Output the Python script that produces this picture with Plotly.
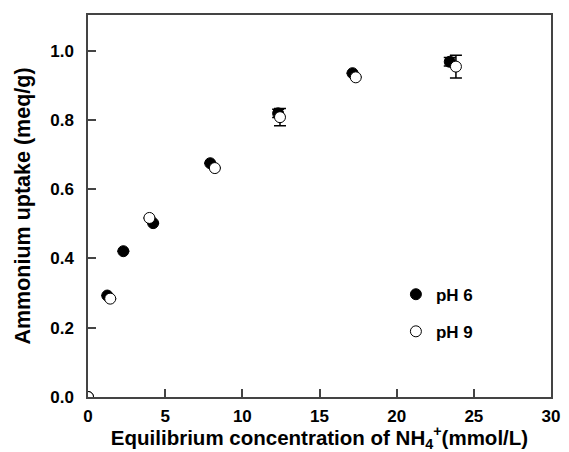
import plotly.graph_objects as go

# pH 6 (filled)
x_ph6 = [0.0, 1.25, 2.29, 4.22, 7.92, 12.32, 17.14, 23.44]
y_ph6 = [0.0, 0.293, 0.421, 0.502, 0.675, 0.819, 0.935, 0.968]
e_ph6 = [0, 0, 0, 0, 0, 0.012, 0, 0.012]

# pH 9 (open)
x_ph9 = [0.0, 1.44, 3.98, 8.22, 12.44, 17.35, 23.84]
y_ph9 = [0.0, 0.284, 0.517, 0.661, 0.808, 0.923, 0.954]
e_ph9 = [0, 0, 0, 0, 0.025, 0, 0.033]

x_ticks = [0, 5, 10, 15, 20, 25, 30]
y_ticks = [0.0, 0.2, 0.4, 0.6, 0.8, 1.0]
y_ticklabels = ["0.0", "0.2", "0.4", "0.6", "0.8", "1.0"]

FONT = "Arial, Liberation Sans, sans-serif"

fig = go.Figure()
fig.add_trace(go.Scatter(
    x=x_ph6, y=y_ph6, mode="markers", name="<b>pH 6</b>",
    legendgroup="a",
    marker=dict(size=11, color="black", line=dict(color="black", width=1)),
    error_y=dict(type="data", array=e_ph6, color="black", thickness=1.5, width=6, visible=True),
))
fig.add_trace(go.Scatter(
    x=x_ph9, y=y_ph9, mode="markers", name="<b>pH 9</b>",
    legendgroup="b",
    marker=dict(size=11, color="white", line=dict(color="black", width=1)),
    error_y=dict(type="data", array=e_ph9, color="black", thickness=1.5, width=6, visible=True),
))

axis_common = dict(
    showline=True, linecolor="#444", linewidth=1.5, mirror=True,
    ticks="inside", ticklen=8, tickwidth=1.5, tickcolor="#444",
    showgrid=False, zeroline=False,
    tickfont=dict(family=FONT, size=17, color="black", weight="bold"),
)

fig.update_layout(
    width=569, height=452,
    margin=dict(l=88, r=9, t=15, b=55),
    plot_bgcolor="white", paper_bgcolor="white",
    font=dict(family=FONT, color="black"),
    xaxis=dict(range=[0, 30], tickvals=x_ticks, ticklabelstandoff=3,
               title=dict(text="<b>Equilibrium concentration of NH<sub>4</sub><sup>+</sup>(mmol/L)</b>",
                          font=dict(family=FONT, size=20.5, color="black"), standoff=2),
               **axis_common),
    yaxis=dict(range=[0, 1.103], tickvals=y_ticks, ticktext=y_ticklabels, ticklabelstandoff=9,
               title=dict(text="<b>Ammonium uptake (meq/g)</b>",
                          font=dict(family=FONT, size=21.5, color="black"), standoff=14),
               **axis_common),
    showlegend=True,
    legend=dict(x=0.665, y=0.315, xanchor="left", yanchor="top",
                bgcolor="rgba(0,0,0,0)", traceorder="grouped", tracegroupgap=12,
                font=dict(family=FONT, size=17, color="black")),
)

fig.write_html("out.html")
